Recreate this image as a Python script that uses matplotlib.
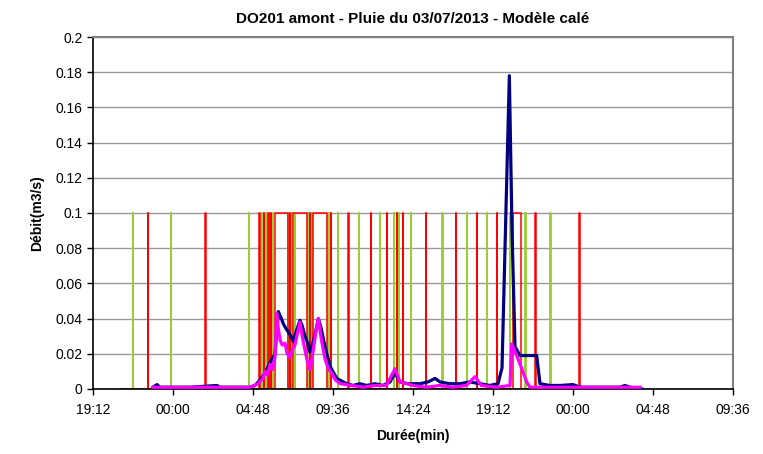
import matplotlib
matplotlib.use("Agg")
import matplotlib.pyplot as plt

plt.rcParams['font.family'] = ['Liberation Sans', 'DejaVu Sans']

# time axis: hours counted from 19:12 on the first day
tick_hours = [0, 4.8, 9.6, 14.4, 19.2, 24.0, 28.8, 33.6, 38.4]
tick_labels = ["19:12", "00:00", "04:48", "09:36", "14:24", "19:12", "00:00", "04:48", "09:36"]

# measured flow (m3/s)
mes_t = [3.60, 3.84, 4.02, 5.00, 5.82, 7.44, 7.62, 8.50, 9.42, 9.72, 10.02, 10.32, 10.62, 10.92,
         11.12, 11.30, 11.42, 11.60, 11.82, 12.02, 12.20, 12.42, 12.55, 12.72, 12.88, 13.02,
         13.30, 13.52, 13.70, 13.92, 14.22, 14.62, 15.22, 15.60, 16.02, 16.40, 16.92, 17.40,
         17.82, 18.12, 18.42, 18.90, 19.62, 20.10, 20.52, 20.82, 21.40, 22.02, 22.60, 23.22,
         23.80, 24.30, 24.54, 24.72, 24.98, 25.14, 25.32, 25.62, 26.62, 26.82, 27.40, 28.02,
         28.80, 29.22, 30.50, 31.62, 31.92, 32.22, 32.94]
mes_q = [0.001, 0.0025, 0.001, 0.001, 0.001, 0.002, 0.001, 0.001, 0.001, 0.002, 0.005, 0.009,
         0.015, 0.020, 0.044, 0.040, 0.037, 0.034, 0.031, 0.027, 0.033, 0.039, 0.036, 0.030,
         0.026, 0.021, 0.030, 0.040, 0.034, 0.024, 0.013, 0.006, 0.003, 0.002, 0.003, 0.002,
         0.003, 0.002, 0.004, 0.009, 0.004, 0.003, 0.003, 0.004, 0.006, 0.004, 0.003, 0.003,
         0.004, 0.003, 0.002, 0.003, 0.012, 0.080, 0.178, 0.090, 0.024, 0.019, 0.019, 0.003,
         0.002, 0.002, 0.0025, 0.001, 0.001, 0.001, 0.002, 0.001, 0.0]

# simulated flow (m3/s)
sim_t = [3.60, 5.00, 6.42, 8.00, 9.42, 9.90, 10.20, 10.32, 10.45, 10.62, 10.75, 10.92, 11.02,
         11.12, 11.22, 11.35, 11.52, 11.65, 11.82, 11.95, 12.12, 12.25, 12.42, 12.55, 12.72,
         12.85, 13.02, 13.15, 13.26, 13.40, 13.52, 13.70, 13.92, 14.10, 14.32, 14.55, 14.82,
         15.50, 16.20, 16.90, 17.60, 18.12, 18.42, 19.20, 20.00, 20.80, 21.60, 22.40, 22.92,
         23.30, 24.20, 25.02, 25.12, 25.42, 25.72, 26.02, 26.22, 28.00, 30.00, 32.82]
sim_q = [0.001, 0.001, 0.001, 0.001, 0.001, 0.003, 0.006, 0.010, 0.008, 0.014, 0.011, 0.018,
         0.043, 0.034, 0.028, 0.025, 0.026, 0.020, 0.018, 0.022, 0.025, 0.031, 0.038, 0.030,
         0.022, 0.016, 0.011, 0.018, 0.025, 0.034, 0.040, 0.028, 0.017, 0.012, 0.009, 0.005,
         0.003, 0.002, 0.001, 0.002, 0.002, 0.0115, 0.004, 0.002, 0.001, 0.002, 0.001, 0.002,
         0.007, 0.002, 0.001, 0.002, 0.0256, 0.019, 0.0117, 0.004, 0.001, 0.001, 0.001, 0.001]

# rain gauges: intervals (start, end) in hours where the indicator is raised
rain_level = 0.1
rain_span = (1.7, 29.6)
gauge_red = [(3.29, 3.31), (6.73, 6.75), (9.97, 9.99), (10.25, 10.27), (10.51, 10.53),
             (10.67, 10.69), (10.90, 11.70), (11.79, 11.81), (12.00, 12.84), (13.01, 13.03),
             (13.20, 14.02), (14.27, 14.29), (15.31, 15.33), (16.65, 16.67), (17.63, 17.65),
             (18.21, 18.23), (18.57, 18.59), (19.95, 19.97), (21.75, 21.77), (23.03, 23.05),
             (24.21, 24.23), (25.20, 25.66), (26.53, 26.55), (29.17, 29.19)]
gauge_green = [2.40, 4.68, 9.34, 10.10, 10.40, 10.58, 10.78, 11.72, 11.92, 12.10, 12.92, 13.12,
               14.12, 14.68, 15.96, 17.20, 18.06, 18.36, 19.08, 20.96, 22.44, 23.64, 25.02,
               25.94, 27.44]


def step_series(intervals):
    xs, ys = [rain_span[0]], [0]
    for s, e in intervals:
        xs += [s, s, e, e]
        ys += [0, rain_level, rain_level, 0]
    xs.append(rain_span[1])
    ys.append(0)
    return xs, ys


fig = plt.figure(figsize=(7.63, 4.54), dpi=100)
ax = fig.add_axes([0.1219, 0.1432, 0.8388, 0.7753])

gx, gy = step_series([(t - 0.01, t + 0.01) for t in gauge_green])
ax.plot(gx, gy, color='#9ACD32', lw=1.3, zorder=2)
rx, ry = step_series(gauge_red)
ax.plot(rx, ry, color='#FF0000', lw=1.1, zorder=2)

ax.plot(mes_t, mes_q, color='#000080', lw=2.3, zorder=3)
ax.plot(sim_t, sim_q, color='#FF00FF', lw=2.3, zorder=4)

ax.set_xlim(0, 38.4)
ax.set_ylim(0, 0.2)
ax.set_xticks(tick_hours)
ax.set_xticklabels(tick_labels)
ax.set_yticks([i * 0.02 for i in range(11)])
ax.set_yticklabels(['0', '0.02', '0.04', '0.06', '0.08', '0.1', '0.12', '0.14', '0.16', '0.18', '0.2'])
ax.tick_params(labelsize=10, direction='out', length=4, width=1, colors='black')
ax.tick_params(axis='x', pad=6)
ax.yaxis.grid(True, color='#999999', lw=1)
ax.set_axisbelow(True)

for side in ['top', 'right']:
    ax.spines[side].set_color('#808080')
    ax.spines[side].set_linewidth(1.5)
for side in ['left', 'bottom']:
    ax.spines[side].set_color('black')
    ax.spines[side].set_linewidth(1.2)

ax.set_title('DO201 amont - Pluie du 03/07/2013 - Modèle calé', fontsize=11, fontweight='bold', pad=10)
ax.set_xlabel('Durée(min)', fontsize=10, fontweight='bold', labelpad=9)
ax.set_ylabel('Débit(m3/s)', fontsize=10, fontweight='bold', labelpad=8)

fig.savefig('out.png', dpi=100)
